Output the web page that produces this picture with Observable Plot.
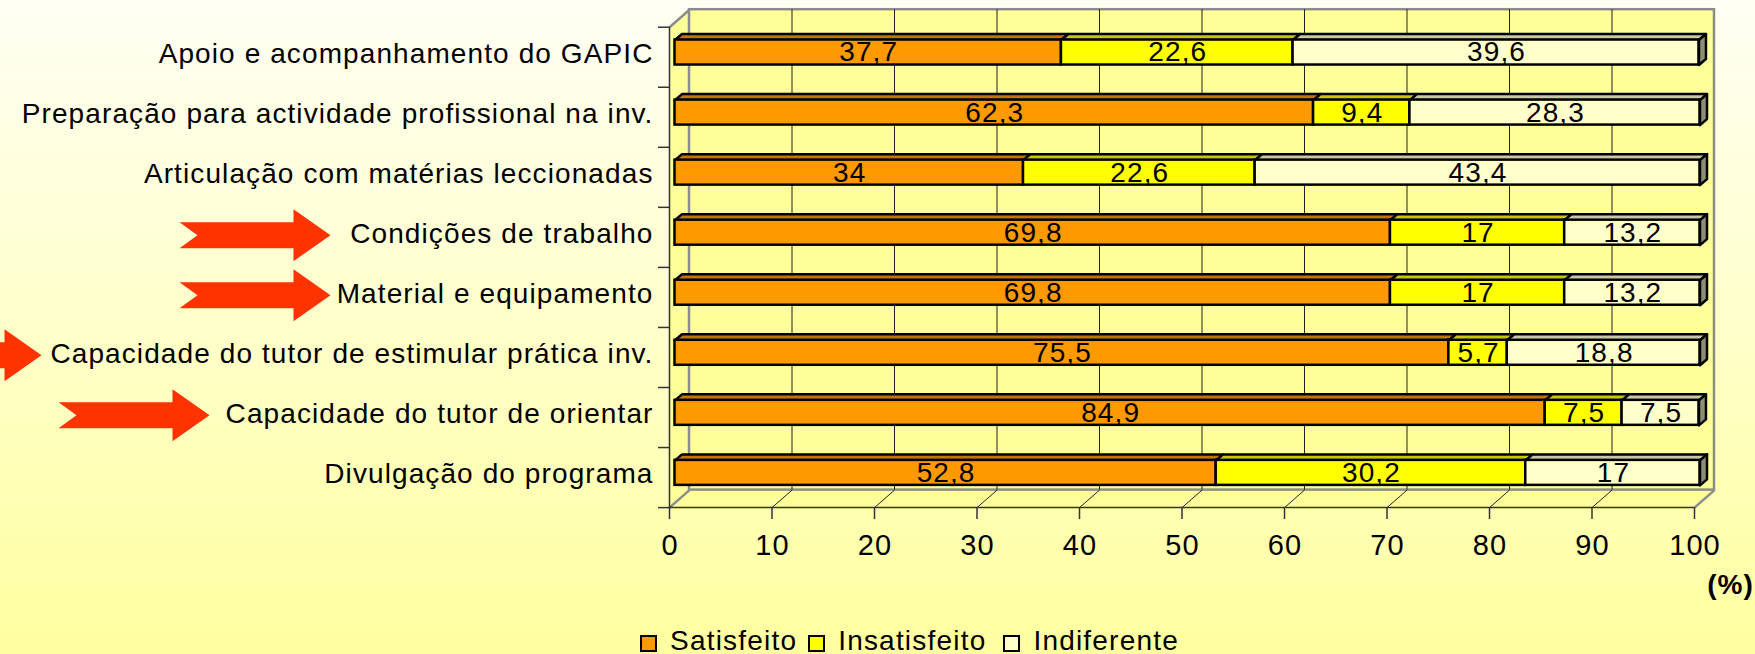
<!DOCTYPE html>
<html><head><meta charset="utf-8">
<script src="https://cdn.jsdelivr.net/npm/d3@7"></script>
<script src="https://cdn.jsdelivr.net/npm/@observablehq/plot@0.6"></script>
<style>
html,body{margin:0;padding:0;}
body{width:1755px;height:654px;overflow:hidden;background:linear-gradient(to bottom,#FFFFF4 0%,#FFFFA0 100%);font-family:"Liberation Sans",Arial,sans-serif;}
#wrap{position:relative;width:1755px;height:654px;}
#legend{position:absolute;left:640px;top:626px;display:flex;align-items:center;font-size:28px;line-height:30px;color:#000;letter-spacing:1.2px;}
.item{display:flex;align-items:center;}
.item:nth-child(1){margin-right:11px;}
.item:nth-child(2){margin-right:17px;}
.sw{width:13px;height:13px;border:2px solid #000;display:inline-block;margin-right:13px;margin-top:4px;}
</style></head><body><div id="wrap"><div id="chart"></div><div id="legend"></div></div>
<script>
// ---- data ----
const categories = [
  "Apoio e acompanhamento do GAPIC",
  "Preparação para actividade profissional na inv.",
  "Articulação com matérias leccionadas",
  "Condições de trabalho",
  "Material e equipamento",
  "Capacidade do tutor de estimular prática inv.",
  "Capacidade do tutor de orientar",
  "Divulgação do programa"
];
const series = ["Satisfeito", "Insatisfeito", "Indiferente"];
const satisfeito   = [37.7, 62.3, 34, 69.8, 69.8, 75.5, 84.9, 52.8];
const insatisfeito = [22.6, 9.4, 22.6, 17, 17, 5.7, 7.5, 30.2];
const indiferente  = [39.6, 28.3, 43.4, 13.2, 13.2, 18.8, 7.5, 17];
const xTicks = [0, 10, 20, 30, 40, 50, 60, 70, 80, 90, 100];
const highlighted = [
  "Condições de trabalho",
  "Material e equipamento",
  "Capacidade do tutor de estimular prática inv.",
  "Capacidade do tutor de orientar"
];

// ---- styles / geometry ----
const frontColors = ["#FF9900", "#FFFF00", "#FFFFCC"];
const topColors   = ["#C47400", "#C8C800", "#C8C8A6"];
const sideColors  = ["#945800", "#969600", "#8E8E72"];
const arrowTipPx = {
  "Condições de trabalho": 330,
  "Material e equipamento": 330,
  "Capacidade do tutor de estimular prática inv.": 41,
  "Capacidade do tutor de orientar": 209
};
const W = 1755, H = 612;
const xRange = [674.5, 1699.5];
const yRange = [22, 502.4];
const kx = (xRange[1] - xRange[0]) / 100;
const ky = (yRange[1] - yRange[0]) / categories.length;
const ux = px => px / kx, uy = px => px / ky;
const F = [-5.5, 4.7];   // front plane offset (px) from bar plane
const B = [14.5, -12.8]; // back wall offset (px) from bar plane
const D = [7, -6];       // bar depth (px)
const h = uy(12.5);      // half bar face height
const yTop = -0.5, yBot = categories.length - 0.5;
const off = (x, y, o) => ({x: x + ux(o[0]), y: y + uy(o[1])});

const values = [satisfeito, insatisfeito, indiferente];
const segs = [];
categories.forEach((c, i) => {
  let x0 = 0;
  values.forEach((vals, s) => {
    const v = vals[i];
    segs.push({cat: c, i, s, v, x1: x0, x2: x0 + v});
    x0 += v;
  });
});

function topPoly(d) {
  const yt = d.i - h, dx = ux(D[0]), dy = uy(D[1]);
  const id = `t${d.i}-${d.s}`;
  return [
    {id, x: d.x1, y: yt}, {id, x: d.x2, y: yt},
    {id, x: d.x2 + dx, y: yt + dy}, {id, x: d.x1 + dx, y: yt + dy}
  ];
}
function sidePoly(d) {
  const yt = d.i - h, yb = d.i + h, dx = ux(D[0]), dy = uy(D[1]);
  const id = `s${d.i}`;
  return [
    {id, x: d.x2, y: yt}, {id, x: d.x2 + dx, y: yt + dy},
    {id, x: d.x2 + dx, y: yb + dy}, {id, x: d.x2, y: yb}
  ];
}

const sideWall = [off(0, yTop, F), off(0, yTop, B), off(0, yBot, B), off(0, yBot, F)];
const floorPoly = [off(0, yBot, F), off(100, yBot, F), off(100, yBot, B), off(0, yBot, B)];
const edgePts = [[0, yTop], [0, yBot], [100, yBot]];
const inner = xTicks.slice(1, -1);
const fmt = v => String(v).replace(".", ",");

const arrowSymbol = {
  draw(ctx) {
    ctx.moveTo(0, 0);
    ctx.lineTo(-37, -26); ctx.lineTo(-37, -13); ctx.lineTo(-151, -13);
    ctx.lineTo(-133, 0);
    ctx.lineTo(-151, 13); ctx.lineTo(-37, 13); ctx.lineTo(-37, 26);
    ctx.closePath();
  }
};

const marks = [
  // walls
  Plot.line(sideWall, {x: "x", y: "y", fill: "#FFFF99", stroke: "none", curve: "linear-closed"}),
  Plot.line(floorPoly, {x: "x", y: "y", fill: "#FFFF99", stroke: "none", curve: "linear-closed"}),
  Plot.rect([0], {x1: 0, x2: 100, y1: yTop, y2: yBot, dx: B[0], dy: B[1], fill: "#FFFF99", stroke: "#8c8c8c", strokeWidth: 2.5}),
  Plot.ruleX(inner, {x: d => d, y1: yTop, y2: yBot, dx: B[0], dy: B[1], stroke: "#222", strokeWidth: 1}),
  Plot.link(inner, {
    x1: d => off(d, yBot, F).x, y1: d => off(d, yBot, F).y,
    x2: d => off(d, yBot, B).x, y2: d => off(d, yBot, B).y,
    stroke: "#222", strokeWidth: 1
  }),
  Plot.link(edgePts, {
    x1: d => off(d[0], d[1], F).x, y1: d => off(d[0], d[1], F).y,
    x2: d => off(d[0], d[1], B).x, y2: d => off(d[0], d[1], B).y,
    stroke: "#8c8c8c", strokeWidth: 2.5
  }),
  // front axes
  Plot.ruleX([0], {x: d => d, y1: yTop, y2: yBot, dx: F[0], dy: F[1], stroke: "#333", strokeWidth: 1.5}),
  Plot.ruleY([yBot], {y: d => d, x1: 0, x2: 100, dx: F[0], dy: F[1], stroke: "#333", strokeWidth: 1.5}),
  Plot.ruleY(d3.range(categories.length + 1).map(k => k - 0.5), {y: d => d, x1: ux(-11), x2: 0, dx: F[0], dy: F[1], stroke: "#333", strokeWidth: 1.5}),
  Plot.ruleX(xTicks, {x: d => d, y1: yBot, y2: yBot + uy(12), dx: F[0], dy: F[1], stroke: "#333", strokeWidth: 1.5}),
  Plot.text(xTicks, {x: d => d, y: yBot, text: d => String(d), dx: F[0] + 0.5, dy: 545 - yRange[1], fontSize: 29}),
  Plot.text(["(%)"], {x: 100, y: yBot, text: d => d, textAnchor: "end", dx: 54, dy: 82, fontWeight: "bold", fontSize: 28}),
  // category labels
  Plot.text(categories, {x: 0, y: (d, i) => i, text: d => d, textAnchor: "end", dx: -21.5, dy: 1.5, fontSize: 28}),
  // arrows
  Plot.dot(highlighted, {x: d => ux(arrowTipPx[d] - xRange[0]), y: d => categories.indexOf(d), dy: 2.5, symbol: arrowSymbol, fill: "#FF3300", stroke: "none"})
];

// bars
series.forEach((name, s) => {
  const segS = segs.filter(d => d.s === s);
  marks.push(Plot.line(segS.flatMap(topPoly), {x: "x", y: "y", z: "id", fill: topColors[s], stroke: "#000", strokeWidth: 2.5, curve: "linear-closed"}));
  if (s === series.length - 1) {
    marks.push(Plot.line(segS.flatMap(sidePoly), {x: "x", y: "y", z: "id", fill: sideColors[s], stroke: "#000", strokeWidth: 2.5, curve: "linear-closed"}));
  }
});
series.forEach((name, s) => {
  const segS = segs.filter(d => d.s === s);
  marks.push(Plot.rect(segS, {x1: "x1", x2: "x2", y1: d => d.i - h, y2: d => d.i + h, fill: frontColors[s], stroke: "#000", strokeWidth: 2.5}));
});
marks.push(Plot.text(segs, {x: d => (d.x1 + d.x2) / 2, y: "i", text: d => fmt(d.v), fontSize: 28, dx: 0.5}));

const chart = Plot.plot({
  width: W, height: H,
  marginLeft: 0, marginRight: 0, marginTop: 0, marginBottom: 0,
  x: {type: "linear", domain: [0, 100], range: xRange, axis: null},
  y: {type: "linear", domain: [yTop, yBot], range: yRange, axis: null},
  style: {background: "transparent", fontFamily: "'Liberation Sans', Arial, sans-serif", overflow: "visible", color: "#000", letterSpacing: "1.1px"},
  marks
});
document.getElementById("chart").appendChild(chart);

// legend
const legend = document.getElementById("legend");
series.forEach((name, s) => {
  const item = document.createElement("div");
  item.className = "item";
  const sw = document.createElement("span");
  sw.className = "sw";
  sw.style.background = frontColors[s];
  const t = document.createElement("span");
  t.textContent = name;
  item.appendChild(sw); item.appendChild(t);
  legend.appendChild(item);
});
</script></body></html>
